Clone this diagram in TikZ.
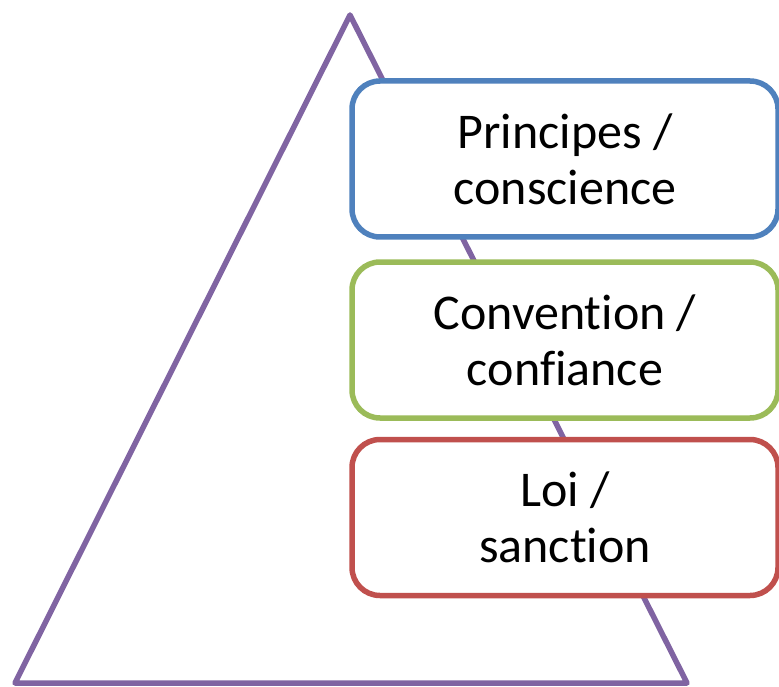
\documentclass[tikz,border=0pt]{standalone}
\usepackage{fontspec}
\setmainfont[Ligatures={NoCommon}]{Carlito}
\definecolor{tripurple}{HTML}{8064A2}
\definecolor{boxblue}{HTML}{4F81BD}
\definecolor{boxgreen}{HTML}{9BBB59}
\definecolor{boxred}{HTML}{C0504D}
\begin{document}
\begin{tikzpicture}[x=1pt,y=-1pt,
  level/.style={draw=#1, line width=5.5pt, fill=white, rounded corners=28pt,
    minimum width=426pt, minimum height=156pt, align=center,
    font=\fontsize{50pt}{56pt}\selectfont, inner sep=0pt}]
\useasboundingbox (0,0) rectangle (779,687);
\coordinate (apex) at (350,15);
\coordinate (bl) at (15,683);
\coordinate (br) at (687,683);
\draw[tripurple, line width=5.5pt, line join=round] (apex) -- (br) -- (bl) -- cycle;
\node[level=boxblue] (p) at (565,159) {Principes /\\conscience};
\node[level=boxgreen] (c) at (565,340) {Convention /\\confiance};
\node[level=boxred] (l) at (565,517.5) {Loi /\\sanction};
\end{tikzpicture}
\end{document}
